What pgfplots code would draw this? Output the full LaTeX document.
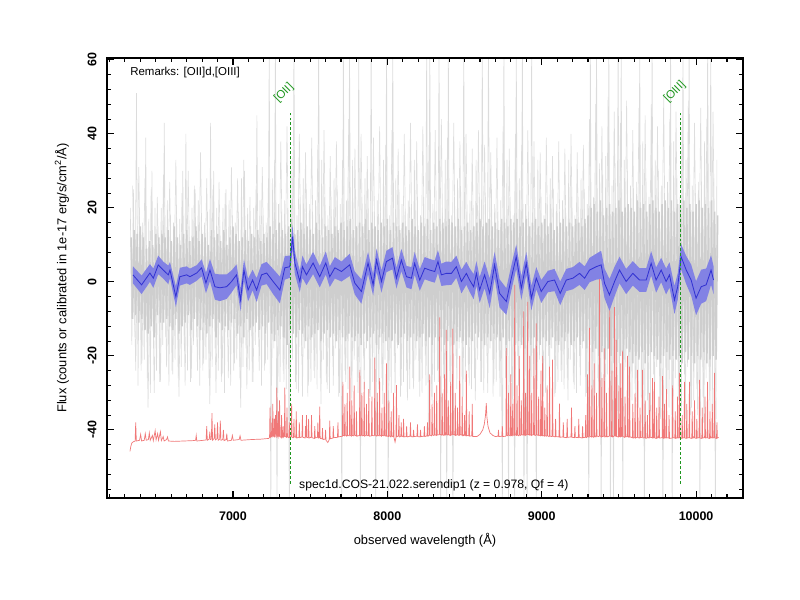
\documentclass[border=0pt]{standalone}
\usepackage{fontspec}
\setmainfont{Liberation Sans}
\usepackage{pgfplots}
\pgfplotsset{compat=1.18}
\usepackage{pgfplotstable}
\definecolor{greycore}{RGB}{206,206,206}
\definecolor{greylight}{RGB}{220,220,220}
\definecolor{greyfaint}{RGB}{222,222,222}
\definecolor{skyred}{RGB}{240,120,120}
\definecolor{bandblue}{RGB}{130,130,228}
\definecolor{lineblue}{RGB}{50,50,210}
\definecolor{lgreen}{RGB}{30,150,30}

\pgfplotstableread{
x y
6352 1.9
6408 -0.8
6462 2.4
6484 1.0
6516 4.6
6548 3.2
6581 1.9
6592 3.2
6630 -4.0
6656 1.4
6700 1.9
6721 1.4
6765 2.4
6797 3.8
6825 -0.3
6851 3.2
6883 -1.3
6915 -1.6
6959 -1.3
6991 0.1
7023 1.9
7049 -4.9
7071 3.2
7098 -2.2
7127 0.5
7153 -2.2
7185 1.9
7218 2.4
7260 0.1
7304 -2.2
7336 3.8
7368 4.1
7386 12.2
7401 5.1
7433 0.1
7450 4.1
7476 1.9
7519 5.1
7562 1.4
7601 5.1
7627 1.4
7660 3.8
7703 2.8
7756 4.6
7789 -0.3
7832 -2.6
7875 5.1
7908 -0.8
7930 5.9
7962 0.1
7994 5.5
8033 6.4
8059 1.0
8091 5.9
8124 1.4
8156 1.0
8177 5.0
8210 0.5
8242 3.7
8274 3.2
8307 2.8
8328 5.5
8350 1.9
8382 2.3
8415 2.3
8447 4.1
8480 0.1
8512 2.3
8533 0.5
8559 -1.3
8577 2.3
8598 -2.2
8630 1.9
8663 -3.1
8695 4.6
8727 -3.1
8771 -5.3
8803 1.0
8835 6.8
8868 -1.7
8900 5.0
8933 -4.4
8965 1.0
8997 -2.6
9040 0.1
9083 0.5
9120 -3.1
9159 0.5
9202 1.0
9245 2.3
9278 1.0
9310 3.2
9353 4.1
9385 4.6
9407 -0.4
9439 -3.5
9472 0.1
9504 3.2
9547 0.1
9590 2.3
9634 0.5
9677 0.5
9709 5.0
9741 0.5
9774 3.2
9806 0.1
9828 1.9
9860 -4.9
9881 -1.3
9903 6.8
9936 3.2
9968 0.5
10000 -4.4
10033 -1.3
10065 -0.8
10097 3.2
10113 0.5
}\bluetab

\begin{document}
\begin{tikzpicture}
\path[use as bounding box] (0,0) rectangle (8in,6in);
\begin{axis}[
  at={(1.07in,1.02in)}, anchor=south west,
  scale only axis, width=6.36in, height=4.40in,
  xmin=6184, xmax=10304, ymin=-58.4, ymax=60.5,
  xtick={6000,7000,...,11000}, ytick={-80,-60,...,80},
  minor x tick num=9, minor y tick num=4,
  scaled ticks=false,
  /pgf/number format/1000 sep={},
  /pgf/number format/assume math mode=true,
  tick align=inside, tick pos=both,
  major tick length=0.07in, minor tick length=0.04in,
  every tick/.style={black, line width=0.8pt},
  axis line style={line width=1.2pt},
  axis on top,
  tick label style={font=\fontsize{9}{10}\selectfont\bfseries},
  xticklabel shift=0.085in,
  yticklabel style={rotate=90, anchor=south},
  yticklabel shift=0.055in,
  label style={font=\fontsize{9.3}{11}\selectfont},
  xlabel={observed wavelength (Å)},
  ylabel={Flux (counts or calibrated in 1e-17 erg/s/cm\textsuperscript{2}/Å)},
  xlabel style={at={(axis description cs:0.5,-0.0955)}, anchor=center},
  ylabel style={at={(axis description cs:-0.0708,0.5)}, anchor=center},
]
% faint wide excursions of the spectrum
\addplot[greyfaint, line width=0.45pt] coordinates {
(6350,26)(6370,-24)(6390,31)(6410,-22)(6430,28)(6450,-34)(6470,25)(6490,-30)(6510,23)(6530,-27)
(6550,29)(6570,-23)(6590,27)(6610,-25)(6630,33)(6650,-31)(6670,24)(6690,-28)(6710,30)(6730,-26)
(6750,26)(6770,-24)(6790,35)(6810,-22)(6830,28)(6850,-33)(6870,25)(6890,-30)(6910,27)(6930,-25)
(6950,24)(6970,-26)(6990,31)(7010,-22)(7030,28)(7050,-34)(7070,33)(7090,-29)(7110,23)(7130,-27)
(7150,26)(7170,-24)(7190,31)(7210,-22)(7230,28)
(7250,-28)(7270,33)(7290,-30)(7310,38)(7330,-27)(7350,42)(7370,-32)(7390,36)(7410,-29)(7430,40)
(7450,-31)(7470,35)(7490,-28)(7510,39)(7530,-26)(7550,37)(7570,-33)(7590,41)(7610,-29)(7630,34)
(7650,-28)(7670,38)(7690,-30)(7710,33)(7730,-27)(7750,44)(7770,-32)(7790,36)(7810,-30)(7830,40)
(7850,-29)(7870,34)(7890,-31)(7910,39)(7930,-27)(7950,42)(7970,-33)(7990,37)(8010,-28)(8030,41)
(8050,-30)(8070,36)(8090,-28)(8110,40)(8130,-32)(8150,43)(8170,-29)(8190,38)(8210,-31)(8230,42)
(8250,-28)(8270,37)(8290,-33)(8310,41)(8330,-27)(8350,44)(8370,-32)(8390,39)(8410,-30)(8430,43)
(8450,-29)(8470,38)(8490,-31)(8510,40)(8530,-28)(8550,36)(8570,-32)(8590,41)(8610,-27)(8630,37)
(8650,-30)(8670,35)(8690,-28)(8710,39)(8730,-31)(8750,42)(8770,-29)(8790,36)(8810,-33)(8830,40)
(8850,-28)(8870,37)(8890,-30)(8910,41)(8930,-32)(8950,38)(8970,-29)(8990,35)(9010,-31)(9030,39)
(9050,-28)(9070,34)(9090,-30)(9110,38)(9130,-27)(9150,36)(9170,-32)(9190,40)(9210,-29)(9230,35)
(9250,-28)(9270,37)(9290,-30)
(9310,44)(9330,-36)(9350,48)(9370,-34)(9390,42)(9410,-38)(9430,50)(9450,-35)(9470,46)(9490,-37)
(9510,43)(9530,-35)(9550,49)(9570,-37)(9590,41)(9610,-34)(9630,47)(9650,-38)(9670,45)(9690,-36)
(9710,48)(9730,-34)(9750,42)(9770,-37)(9790,50)(9810,-35)(9830,44)(9850,-38)(9870,46)(9890,-33)
(9910,45)(9930,-37)(9950,49)(9970,-34)(9990,43)(10010,-36)(10030,47)(10050,-38)(10070,44)(10090,-35)
(10110,46)(10130,-37)
};
% light grey spectrum excursions
\addplot[greylight, line width=0.45pt] coordinates {
(6335,20)(6345,-17)(6355,25)(6365,-15)(6375,51)(6385,-28)(6395,18)(6405,-24)(6415,16)(6425,-21)(6435,39)(6445,-26)(6455,17)(6465,-30)(6475,30)(6485,-18)(6495,20)(6505,-24)(6515,15)(6525,-27)
(6535,20)(6545,-17)(6555,43)(6565,-15)(6575,22)(6585,-28)(6595,18)(6605,-24)(6615,16)(6625,-21)(6635,19)(6645,-26)(6655,17)(6665,-23)(6675,30)(6685,-18)(6695,40)(6705,-24)(6715,15)(6725,-27)
(6735,20)(6745,-17)(6755,25)(6765,-15)(6775,22)(6785,-28)(6795,18)(6805,-24)(6815,16)(6825,-21)(6835,19)(6845,-26)(6855,43)(6865,-23)(6875,30)(6885,-18)(6895,20)(6905,-24)(6915,15)(6925,-27)
(6935,20)(6945,-30)(6955,25)(6965,-15)(6975,22)(6985,-28)(6995,18)(7005,-24)(7015,16)(7025,-21)(7035,19)(7045,-26)(7055,28)(7065,-23)(7075,30)(7085,-18)(7095,20)(7105,-24)(7115,15)(7125,-27)
(7135,20)(7145,-17)(7155,45)(7165,-15)(7175,22)(7185,-28)(7195,18)(7205,-24)(7215,16)(7225,-21)
(7235,65)(7245,-65)(7255,28)(7265,-18)(7275,65)(7285,-65)(7295,21)(7305,-27)(7315,19)(7325,-24)(7335,22)(7345,-29)(7355,20)(7365,-65)(7375,33)(7385,-21)(7395,65)(7405,-27)(7415,18)(7425,-30)
(7435,23)(7445,-20)(7455,28)(7465,-18)(7475,25)(7485,-31)(7495,21)(7505,-27)(7515,19)(7525,-24)(7535,22)(7545,-29)(7555,65)(7565,-26)(7575,33)(7585,-21)(7595,23)(7605,-27)(7615,18)(7625,-30)
(7635,23)(7645,-20)(7655,28)(7665,-18)(7675,25)(7685,-31)(7695,21)(7705,-65)(7715,65)(7725,-24)(7735,22)(7745,-29)(7755,65)(7765,-26)(7775,33)(7785,-21)(7795,23)(7805,-27)(7815,65)(7825,-65)
(7835,23)(7845,-20)(7855,28)(7865,-18)(7875,25)(7885,-31)(7895,65)(7905,-27)(7915,19)(7925,-65)(7935,22)(7945,-29)(7955,20)(7965,-26)(7975,33)(7985,-21)(7995,65)(8005,-65)(8015,18)(8025,-30)
(8035,65)(8045,-20)(8055,28)(8065,-18)(8075,25)(8085,-31)(8095,21)(8105,-27)(8115,19)(8125,-24)(8135,22)(8145,-29)(8155,20)(8165,-26)(8175,33)(8185,-21)(8195,23)(8205,-27)(8215,18)(8225,-30)
(8235,23)(8245,-20)(8255,65)(8265,-40)(8275,65)(8285,-31)(8295,21)(8305,-27)(8315,19)(8325,-24)(8335,65)(8345,-65)(8355,20)(8365,-26)(8375,33)(8385,-65)(8395,65)(8405,-27)(8415,18)(8425,-65)
(8435,23)(8445,-20)(8455,28)(8465,-18)(8475,25)(8485,-31)(8495,65)(8505,-27)(8515,19)(8525,-24)(8535,22)(8545,-29)(8555,20)(8565,-26)(8575,33)(8585,-21)(8595,23)(8605,-27)(8615,65)(8625,-30)
(8635,23)(8645,-20)(8655,65)(8665,-18)(8675,25)(8685,-31)(8695,21)(8705,-27)(8715,19)(8725,-24)(8735,22)(8745,-65)(8755,65)(8765,-26)(8775,33)(8785,-65)(8795,23)(8805,-27)(8815,18)(8825,-65)
(8835,65)(8845,-20)(8855,28)(8865,-18)(8875,65)(8885,-65)(8895,21)(8905,-65)(8915,19)(8925,-24)(8935,65)(8945,-29)(8955,20)(8965,-65)(8975,33)(8985,-21)(8995,23)(9005,-27)(9015,18)(9025,-30)
(9035,23)(9045,-20)(9055,28)(9065,-18)(9075,25)(9085,-31)(9095,21)(9105,-27)(9115,19)(9125,-24)(9135,22)(9145,-29)(9155,20)(9165,-26)(9175,33)(9185,-21)(9195,23)(9205,-27)(9215,18)(9225,-30)
(9235,23)(9245,-20)(9255,28)(9265,-18)(9275,25)(9285,-31)(9295,21)
(9305,-65)(9315,65)(9325,-33)(9335,23)(9345,-30)(9355,65)(9365,-26)(9375,32)(9385,-65)(9395,29)(9405,-27)(9415,34)(9425,-25)(9435,65)(9445,-65)(9455,26)(9465,-65)(9475,32)(9485,-23)(9495,65)(9505,-35)
(9515,65)(9525,-65)(9535,33)(9545,-23)(9555,30)(9565,-36)(9575,26)(9585,-32)(9595,24)(9605,-29)(9615,27)(9625,-34)(9635,65)(9645,-31)(9655,38)(9665,-65)(9675,28)(9685,-32)(9695,23)(9705,-35)
(9715,65)(9725,-25)(9735,33)(9745,-23)(9755,30)(9765,-36)(9775,26)(9785,-65)(9795,24)(9805,-29)(9815,27)(9825,-34)(9835,65)(9845,-65)(9855,38)(9865,-26)(9875,28)(9885,-32)(9895,23)(9905,-35)
(9915,65)(9925,-25)(9935,33)(9945,-23)(9955,65)(9965,-36)(9975,26)(9985,-32)(9995,24)(10005,-29)(10015,27)(10025,-65)(10035,25)(10045,-31)(10055,38)(10065,-26)(10075,65)(10085,-32)(10095,65)(10105,-35)
(10115,28)(10125,-65)(10135,33)
};
% dense grey core of the spectrum
\addplot[greycore, line width=1.1pt] coordinates {
(6340,12)(6350,-10)(6360,14)(6370,-9)(6380,13)(6390,-11)(6400,15)(6410,-10)(6420,12)(6430,-13)(6440,9)(6450,-14)(6460,11)(6470,-12)(6480,10)(6490,-15)(6500,13)(6510,-9)(6520,12)(6530,-11)
(6540,13)(6550,-11)(6560,12)(6570,-10)(6580,14)(6590,-12)(6600,11)(6610,-13)(6620,15)(6630,-10)(6640,12)(6650,-14)(6660,10)(6670,-12)(6680,13)(6690,-11)(6700,14)(6710,-9)(6720,11)(6730,-13)
(6740,12)(6750,-10)(6760,15)(6770,-12)(6780,11)(6790,-13)(6800,13)(6810,-11)(6820,12)(6830,-14)(6840,10)(6850,-12)(6860,14)(6870,-10)(6880,12)(6890,-15)(6900,13)(6910,-11)(6920,11)(6930,-13)
(6940,14)(6950,-12)(6960,10)(6970,-13)(6980,12)(6990,-11)(7000,15)(7010,-10)(7020,13)(7030,-14)(7040,11)(7050,-12)(7060,12)(7070,-15)(7080,14)(7090,-10)(7100,11)(7110,-13)(7120,13)(7130,-12)
(7140,12)(7150,-11)(7160,14)(7170,-13)(7180,11)(7190,-12)(7200,13)(7210,-14)(7220,12)(7230,-11)
(7240,15)(7250,-14)(7260,13)(7270,-16)(7280,14)(7290,-13)(7300,16)(7310,-12)(7320,14)(7330,-15)(7340,13)(7350,-17)(7360,15)(7370,-13)(7380,17)(7390,-14)(7400,13)(7410,-15)(7420,14)(7430,-13)
(7440,16)(7450,-14)(7460,13)(7470,-16)(7480,15)(7490,-12)(7500,14)(7510,-15)(7520,13)(7530,-14)(7540,16)(7550,-13)(7560,14)(7570,-16)(7580,12)(7590,-14)(7600,15)(7610,-13)(7620,14)(7630,-15)
(7640,13)(7650,-14)(7660,15)(7670,-16)(7680,14)(7690,-13)(7700,16)(7710,-15)(7720,14)(7730,-16)(7740,15)(7750,-14)(7760,17)(7770,-15)(7780,14)(7790,-16)(7800,15)(7810,-14)(7820,16)(7830,-17)
(7840,15)(7850,-14)(7860,17)(7870,-16)(7880,14)(7890,-15)(7900,16)(7910,-14)(7920,15)(7930,-17)(7940,14)(7950,-15)(7960,16)(7970,-14)(7980,15)(7990,-16)(8000,17)(8010,-15)(8020,14)(8030,-16)
(8040,16)(8050,-14)(8060,15)(8070,-17)(8080,14)(8090,-15)(8100,16)(8110,-14)(8120,15)(8130,-16)(8140,14)(8150,-15)(8160,17)(8170,-14)(8180,15)(8190,-16)(8200,14)(8210,-15)(8220,16)(8230,-14)
(8240,15)(8250,-16)(8260,17)(8270,-15)(8280,14)(8290,-17)(8300,16)(8310,-15)(8320,15)(8330,-16)(8340,17)(8350,-15)(8360,16)(8370,-17)(8380,15)(8390,-16)(8400,17)(8410,-15)(8420,16)(8430,-17)
(8440,15)(8450,-16)(8460,17)(8470,-15)(8480,14)(8490,-16)(8500,15)(8510,-17)(8520,16)(8530,-15)(8540,14)(8550,-16)(8560,15)(8570,-14)(8580,16)(8590,-15)(8600,17)(8610,-16)(8620,15)(8630,-17)
(8640,16)(8650,-15)(8660,17)(8670,-16)(8680,15)(8690,-14)(8700,16)(8710,-15)(8720,14)(8730,-16)(8740,17)(8750,-15)(8760,16)(8770,-17)(8780,15)(8790,-16)(8800,17)(8810,-15)(8820,16)(8830,-17)
(8840,17)(8850,-16)(8860,15)(8870,-17)(8880,16)(8890,-18)(8900,17)(8910,-16)(8920,15)(8930,-17)(8940,16)(8950,-15)(8960,17)(8970,-16)(8980,15)(8990,-17)(9000,16)(9010,-15)(9020,17)(9030,-16)
(9040,15)(9050,-17)(9060,16)(9070,-15)(9080,14)(9090,-16)(9100,15)(9110,-17)(9120,16)(9130,-15)(9140,17)(9150,-16)(9160,15)(9170,-14)(9180,16)(9190,-17)(9200,15)(9210,-16)(9220,17)(9230,-15)
(9240,16)(9250,-17)(9260,15)(9270,-16)(9280,17)(9290,-18)
(9300,18)(9310,-17)(9320,20)(9330,-19)(9340,21)(9350,-18)(9360,19)(9370,-20)(9380,22)(9390,-19)(9400,18)(9410,-21)(9420,20)(9430,-18)(9440,21)(9450,-20)(9460,19)(9470,-22)(9480,20)(9490,-19)
(9500,22)(9510,-20)(9520,19)(9530,-21)(9540,20)(9550,-18)(9560,21)(9570,-19)(9580,20)(9590,-22)(9600,19)(9610,-20)(9620,22)(9630,-21)(9640,20)(9650,-19)(9660,21)(9670,-22)(9680,19)(9690,-20)
(9700,21)(9710,-19)(9720,22)(9730,-20)(9740,20)(9750,-21)(9760,19)(9770,-22)(9780,21)(9790,-20)(9800,22)(9810,-19)(9820,20)(9830,-21)(9840,22)(9850,-20)(9860,19)(9870,-21)(9880,21)(9890,-20)
(9900,20)(9910,-22)(9920,22)(9930,-19)(9940,20)(9950,-21)(9960,21)(9970,-20)(9980,19)(9990,-22)(10000,21)(10010,-20)(10020,22)(10030,-21)(10040,20)(10050,-19)(10060,21)(10070,-22)(10080,20)(10090,-21)
(10100,22)(10110,-20)(10120,19)(10130,-21)(10140,18)
};
% sky / noise spectrum
\addplot[skyred, line width=0.5pt] coordinates {
(6333,-45.8)(6338,-44.5)(6345,-43.5)(6355,-43.2)(6366,-43)(6370,-38)(6374,-43)
(6395,-42.8)(6402,-41.2)(6408,-43)(6425,-42.8)(6432,-41)(6438,-42.8)(6452,-42.6)(6458,-40.8)(6464,-42.8)(6478,-41.5)(6484,-42.9)(6496,-40.2)(6502,-42.7)(6512,-41)(6518,-42.8)(6530,-40.5)(6536,-42.9)(6548,-41.8)(6554,-43)(6570,-42.6)(6576,-41.9)(6582,-43)(6620,-43.1)(6680,-43)(6740,-42.9)(6758,-42.8)(6762,-41.5)(6766,-43)(6810,-42.8)
(6826,-42.7)(6830,-39)(6834,-42.8)(6846,-42.5)(6850,-40.5)(6854,-42.6)(6860,-42.5)(6864,-35.5)(6868,-42.8)(6878,-42.3)(6882,-38.5)(6886,-42.7)(6896,-42.4)(6900,-38)(6904,-42.8)(6914,-42.5)(6918,-37.5)(6922,-42.8)(6934,-42.6)(6938,-40)(6942,-42.9)(6956,-42.6)(6960,-41)(6964,-43)(6990,-42.8)(6996,-41.5)(7002,-42.8)(7040,-42.6)(7046,-41.6)(7052,-42.8)(7120,-42.6)(7180,-42.5)(7232,-42.3)
(7237,-42)(7240,-34)(7243,-42)(7249,-41.8)(7252,-38)(7255,-42)(7258,-33)(7261,-41.6)(7265,-41.8)(7268,-37)(7271,-42)(7275,-36)(7278,-41.7)(7281,-41.9)(7284,-28.6)(7287,-41.5)(7292,-42)(7295,-35)(7298,-41.8)(7302,-32)(7305,-41.9)(7312,-42)(7315,-36)(7318,-42.1)(7322,-41.8)(7325,-39)(7328,-42)(7333,-41.7)(7336,-28.6)(7339,-41.8)(7347,-42)(7350,-34)(7353,-41.9)(7362,-42.1)(7365,-38)(7368,-42)(7377,-41.8)(7380,-33)(7383,-42)(7392,-42.1)(7395,-37)(7398,-41.9)(7407,-42)(7410,-35)(7413,-42.2)(7427,-42)(7430,-38)(7433,-42.1)(7447,-41.9)(7450,-36)(7453,-42)(7467,-42.2)(7470,-39)(7473,-42)(7476,-36)(7479,-42.1)(7487,-42)(7490,-37)(7493,-42.2)(7506,-42)(7509,-36)(7512,-42.1)(7527,-42.3)(7530,-39)(7533,-42.2)(7547,-42)(7550,-38)(7553,-42.2)(7559,-42.1)(7562,-33.7)(7565,-42.3)(7577,-42.4)(7580,-39.5)(7583,-42.6)(7597,-42.5)(7600,-40)(7603,-42.8)(7614,-43.4)(7624,-42.6)(7627,-37.5)(7630,-42.4)(7647,-42.2)(7650,-39)(7653,-42.1)(7677,-42)(7680,-38)(7683,-41.9)
(7709,-41.7)(7712,-27)(7715,-41.5)(7722,-41.6)(7725,-33)(7728,-41.4)(7737,-41.7)(7740,-30)(7743,-41.5)(7754,-41.6)(7757,-22.9)(7760,-41.4)(7767,-41.7)(7770,-32)(7773,-41.5)(7782,-41.6)(7785,-28)(7788,-41.4)(7797,-41.6)(7800,-35)(7803,-41.7)(7819,-41.5)(7822,-23.8)(7825,-41.6)(7832,-41.4)(7835,-30)(7838,-41.6)(7847,-41.5)(7850,-27)(7853,-41.7)(7862,-41.4)(7865,-33)(7868,-41.6)(7877,-41.5)(7880,-29)(7883,-41.7)(7897,-41.6)(7900,-31)(7903,-41.5)(7916,-41.6)(7919,-20.5)(7922,-41.4)(7932,-41.7)(7935,-30)(7938,-41.5)(7947,-41.6)(7950,-26)(7953,-41.4)(7962,-41.7)(7965,-34)(7968,-41.5)(7977,-41.6)(7980,-30)(7983,-41.5)(7991,-41.7)(7994,-22)(7997,-41.6)(8007,-41.8)(8010,-32)(8013,-41.6)(8022,-41.9)(8025,-35)(8028,-41.7)(8037,-41.8)(8040,-30)(8043,-42)(8050,-43.3)(8056,-42)(8059,-27.9)(8062,-41.8)(8072,-41.7)(8075,-36)(8078,-41.9)(8087,-41.8)(8090,-38)(8093,-41.7)(8102,-41.8)(8105,-37)(8108,-41.9)
(8122,-41.8)(8125,-39)(8128,-41.9)(8147,-41.7)(8150,-38)(8153,-41.8)(8167,-41.9)(8170,-40)(8173,-41.8)(8192,-41.7)(8195,-38.5)(8198,-41.8)(8212,-41.9)(8215,-40)(8218,-41.8)(8237,-41.7)(8240,-39)(8243,-41.8)(8257,-41.6)(8260,-38)(8263,-41.7)
(8271,-41.5)(8274,-25)(8277,-41.4)(8287,-41.6)(8290,-33)(8293,-41.4)(8302,-41.5)(8305,-30)(8308,-41.3)(8317,-41.5)(8320,-28)(8323,-41.4)(8336,-41.3)(8339,-9.6)(8342,-41.2)(8352,-41.4)(8355,-30)(8358,-41.3)(8367,-41.5)(8370,-25)(8373,-41.3)(8379,-41.4)(8382,-13)(8385,-41.2)(8392,-41.4)(8395,-32)(8398,-41.3)(8407,-41.5)(8410,-27)(8413,-41.4)(8421,-41.3)(8424,-12.6)(8427,-41.2)(8437,-41.4)(8440,-30)(8443,-41.5)(8452,-41.3)(8455,-34)(8458,-41.4)(8466,-41.5)(8469,-20)(8472,-41.3)(8482,-41.4)(8485,-31)(8488,-41.6)(8497,-41.5)(8500,-36)(8503,-41.4)(8509,-41.6)(8512,-24)(8515,-41.5)(8527,-41.6)(8530,-35)(8533,-41.7)(8547,-41.6)(8550,-33)(8553,-41.8)
(8580,-41.8)(8600,-41.2)(8618,-40)(8628,-38.5)(8636,-36)(8641,-32.8)(8645,-36.5)(8652,-39)(8665,-40.8)(8684,-41.5)(8700,-41.8)(8717,-41.7)(8720,-40)(8723,-41.8)(8742,-41.7)(8745,-39)(8748,-41.8)
(8768,-41.7)(8771,-17.9)(8774,-41.5)(8782,-41.6)(8785,-30)(8788,-41.4)(8797,-41.6)(8800,-25)(8803,-41.5)(8809,-41.6)(8812,-33)(8815,-41.4)(8822,-41.5)(8825,-0.8)(8828,-41.3)(8837,-41.5)(8840,-28)(8843,-41.4)(8852,-41.6)(8855,-20)(8858,-41.4)(8865,-41.5)(8868,-32)(8871,-41.3)(8880,-41.4)(8883,-8)(8886,-41.3)(8892,-41.5)(8895,-30)(8898,-41.4)(8906,-41.3)(8909,-5.4)(8912,-41.2)(8919,-41.4)(8922,-20)(8925,-41.3)(8932,-41.5)(8935,-30)(8938,-41.4)(8947,-41.3)(8950,-18)(8953,-41.4)(8962,-41.5)(8965,-11.2)(8968,-41.3)(8977,-41.5)(8980,-31)(8983,-41.4)(8992,-41.6)(8995,-24)(8998,-41.5)(9003,-41.6)(9006,-20)(9009,-41.5)(9017,-41.7)(9020,-34)(9023,-41.6)(9032,-41.7)(9035,-28)(9038,-41.6)(9048,-41.8)(9051,-22.9)(9054,-41.7)
(9067,-41.8)(9070,-21)(9073,-41.7)(9087,-41.9)(9090,-37)(9093,-41.8)(9112,-41.9)(9115,-32.9)(9118,-42)(9137,-41.9)(9140,-38)(9143,-42)(9162,-42.1)(9165,-37)(9168,-42)(9190,-41.9)(9193,-34)(9196,-42)(9212,-42.1)(9215,-39)(9218,-42)(9237,-42.1)(9240,-37)(9243,-42)(9262,-42.2)(9265,-39)(9268,-42.1)(9282,-42)(9285,-36)(9288,-42.1)
(9294,-42)(9297,-25)(9300,-41.8)(9307,-42)(9310,-12.4)(9313,-41.7)(9322,-41.9)(9325,-28)(9328,-41.8)(9337,-42)(9340,-22)(9343,-41.8)(9352,-41.9)(9355,-30)(9358,-41.7)(9372,-41.8)(9375,1.4)(9378,-41.6)(9387,-41.9)(9390,-26)(9393,-41.8)(9402,-41.7)(9405,-18)(9408,-41.9)(9417,-41.8)(9420,-30)(9423,-41.9)(9437,-41.7)(9440,-6.5)(9443,-41.6)(9452,-41.8)(9455,-24)(9458,-41.9)(9469,-41.7)(9472,-6.8)(9475,-41.6)(9480,-41.7)(9483,-15.7)(9486,-41.8)(9497,-41.9)(9500,-28)(9503,-41.8)(9509,-41.9)(9512,-22)(9515,-41.8)(9521,-41.7)(9524,-18.6)(9527,-41.8)(9537,-42)(9540,-31)(9543,-41.9)(9553,-41.8)(9556,-20)(9559,-41.9)(9566,-42)(9569,-22.9)(9572,-41.9)
(9587,-42.1)(9590,-33)(9593,-42.2)(9602,-42.1)(9605,-30)(9608,-42.2)(9618,-42)(9621,-23.8)(9624,-42.1)(9634,-42.2)(9637,-34)(9640,-42.1)(9650,-42)(9653,-23.8)(9656,-42.2)(9667,-42.1)(9670,-32)(9673,-42.3)(9682,-42.2)(9685,-36)(9688,-42.1)(9697,-42.2)(9700,-30)(9703,-42)(9715,-42.1)(9718,-26)(9721,-42.2)(9727,-42.1)(9730,-27)(9733,-42.2)(9742,-42.3)(9745,-34)(9748,-42.2)(9757,-42.1)(9760,-31)(9763,-42.2)(9780,-42.1)(9783,-25.5)(9786,-42.2)(9792,-42.3)(9795,-33)(9798,-42.1)(9805,-42.2)(9808,-29)(9811,-42.1)(9822,-42.2)(9825,-36)(9828,-42.3)(9845,-42.2)(9848,-28)(9851,-42.1)(9862,-42.2)(9865,-35)(9868,-42.3)(9877,-42.1)(9880,-31)(9883,-42.2)(9890,-42.1)(9893,-24.6)(9896,-42.2)(9907,-42.3)(9910,-36)(9913,-42.2)(9922,-42.1)(9925,-27)(9928,-42.2)(9937,-42.3)(9940,-33)(9943,-42.2)(9954,-42.1)(9957,-27)(9960,-42.2)(9972,-42.3)(9975,-35)(9978,-42.2)(9987,-42.1)(9990,-32)(9993,-42.2)(10002,-42.3)(10005,-37)(10008,-42.2)(10019,-42.1)(10022,-26.5)(10025,-42.2)(10037,-42.3)(10040,-34)(10043,-42.2)(10055,-42.1)(10058,-31)(10061,-42.2)(10071,-42.1)(10074,-27)(10077,-42.2)(10087,-42.3)(10090,-35)(10093,-42.2)(10102,-42.1)(10105,-33)(10108,-42.2)(10116,-42.1)(10119,-24.6)(10122,-42.2)(10132,-42.3)(10135,-38)(10138,-42.2)(10146,-42)
};
% error band of the smoothed spectrum: upper edge forward, lower edge back
\addplot[fill=bandblue, draw=none] coordinates {
(6352,4.2)(6408,1.7)(6462,4.8)(6484,3.6)(6516,7.1)(6548,5.5)(6581,4.4)(6592,5.4)(6630,-1.2)(6656,3.8)(6700,4.2)(6721,3.6)(6765,4.5)(6797,6.1)(6825,2.5)(6851,6.2)(6883,2.2)(6915,2.0)(6959,2.0)(6991,3.1)
(7023,4.7)(7049,-1.9)(7071,6.1)(7098,0.9)(7127,3.3)(7153,1.0)(7185,4.8)(7218,5.4)(7260,3.5)(7304,1.4)(7336,7.0)(7368,7.1)(7386,15.4)(7401,8.1)(7433,3.0)(7450,7.1)(7476,4.7)(7519,8.1)(7562,4.3)(7601,8.2)
(7627,4.2)(7660,6.7)(7703,5.5)(7756,7.6)(7789,2.8)(7832,0.7)(7875,8.1)(7908,2.1)(7930,9.0)(7962,3.1)(7994,8.4)(8033,9.4)(8059,3.8)(8091,8.9)(8124,4.3)(8156,4.0)(8177,8.1)(8210,3.4)(8242,6.7)(8274,6.2)
(8307,5.8)(8328,8.6)(8350,4.9)(8382,5.5)(8415,5.4)(8447,7.1)(8480,3.3)(8512,5.4)(8533,3.7)(8559,2.1)(8577,5.6)(8598,1.3)(8630,5.5)(8663,0.9)(8695,8.1)(8727,0.7)(8771,-1.7)(8803,4.4)(8835,10.1)(8868,1.5)
(8900,8.1)(8933,-1.1)(8965,4.0)(8997,0.5)(9040,3.0)(9083,3.5)(9120,0.1)(9159,3.5)(9202,4.0)(9245,5.4)(9278,4.2)(9310,6.5)(9353,7.6)(9385,8.4)(9407,3.6)(9439,0.8)(9472,4.1)(9504,6.8)(9547,3.5)(9590,5.6)
(9634,3.7)(9677,3.7)(9709,8.3)(9741,3.9)(9774,6.5)(9806,3.6)(9828,5.3)(9860,-1.1)(9881,2.3)(9903,10.2)(9936,7.0)(9968,4.7)(10000,0.2)(10033,3.3)(10065,3.6)(10097,7.2)(10113,4.3)
(10113,-3.3)(10097,-0.8)(10065,-5.2)(10033,-5.9)(10000,-9.0)(9968,-3.7)(9936,-0.6)(9903,3.4)(9881,-4.9)(9860,-8.7)(9828,-1.5)(9806,-3.4)(9774,-0.1)(9741,-2.9)(9709,1.7)(9677,-2.7)(9634,-2.7)
(9590,-1.0)(9547,-3.3)(9504,-0.4)(9472,-3.9)(9439,-7.8)(9407,-4.4)(9385,0.8)(9353,0.6)(9310,-0.1)(9278,-2.2)(9245,-0.8)(9202,-2.0)(9159,-2.5)(9120,-6.3)(9083,-2.5)(9040,-2.8)(8997,-5.7)(8965,-2.0)(8933,-7.7)(8900,1.9)
(8868,-4.9)(8835,3.5)(8803,-2.4)(8771,-8.9)(8727,-6.9)(8695,1.1)(8663,-7.1)(8630,-1.7)(8598,-5.7)(8577,-1.0)(8559,-4.7)(8533,-2.7)(8512,-0.8)(8480,-3.1)(8447,1.1)(8415,-0.8)(8382,-0.9)(8350,-1.1)(8328,2.4)(8307,-0.2)
(8274,0.2)(8242,0.7)(8210,-2.4)(8177,1.9)(8156,-2.0)(8124,-1.5)(8091,2.9)(8059,-1.8)(8033,3.4)(7994,2.6)(7962,-2.9)(7930,2.8)(7908,-3.7)(7875,2.1)(7832,-5.9)(7789,-3.4)(7756,1.6)(7703,0.1)(7660,0.9)(7627,-1.4)
(7601,2.0)(7562,-1.5)(7519,2.1)(7476,-0.9)(7450,1.1)(7433,-2.8)(7401,2.1)(7386,9.0)(7368,1.1)(7336,0.6)(7304,-5.8)(7260,-3.3)(7218,-0.6)(7185,-1.0)(7153,-5.4)(7127,-2.3)(7098,-5.3)(7071,0.3)(7049,-7.9)(7023,-0.9)
(6991,-2.9)(6959,-4.6)(6915,-5.2)(6883,-4.8)(6851,0.2)(6825,-3.1)(6797,1.5)(6765,0.3)(6721,-0.8)(6700,-0.4)(6656,-1.0)(6630,-6.8)(6592,1.0)(6581,-0.6)(6548,0.9)(6516,2.1)(6484,-1.6)(6462,0.0)(6408,-3.3)(6352,-0.4)
} -- cycle;
\addplot[lineblue, line width=0.6pt] table[x=x, y=y] {\bluetab};
% emission lines
\addplot[lgreen, line width=0.6pt, dash pattern=on 2pt off 1.5pt] coordinates {(7373,-54.5) (7373,45.7)};
\addplot[lgreen, line width=0.6pt, dash pattern=on 2pt off 1.5pt] coordinates {(9897,-54.5) (9897,45.7)};
\coordinate (oii) at (axis cs:7305,47.8);
\coordinate (oiii) at (axis cs:9829,47.8);
\node[anchor=west, inner sep=0pt, font=\fontsize{8.3}{10}\selectfont] at (axis cs:6333,56.5) {Remarks: [OII]d,[OIII]};
\node[anchor=west, inner sep=0pt, font=\fontsize{8.8}{10}\selectfont] at (axis cs:7427,-55.1) {spec1d.COS-21.022.serendip1 (z = 0.978, Qf = 4)};
\end{axis}
\node[rotate=45, anchor=south west, inner sep=0pt, text=lgreen, font=\fontsize{8.3}{10}\selectfont] at (oii) {[OII]};
\node[rotate=45, anchor=south west, inner sep=0pt, text=lgreen, font=\fontsize{8.3}{10}\selectfont] at (oiii) {[OIII]};
\end{tikzpicture}
\end{document}
